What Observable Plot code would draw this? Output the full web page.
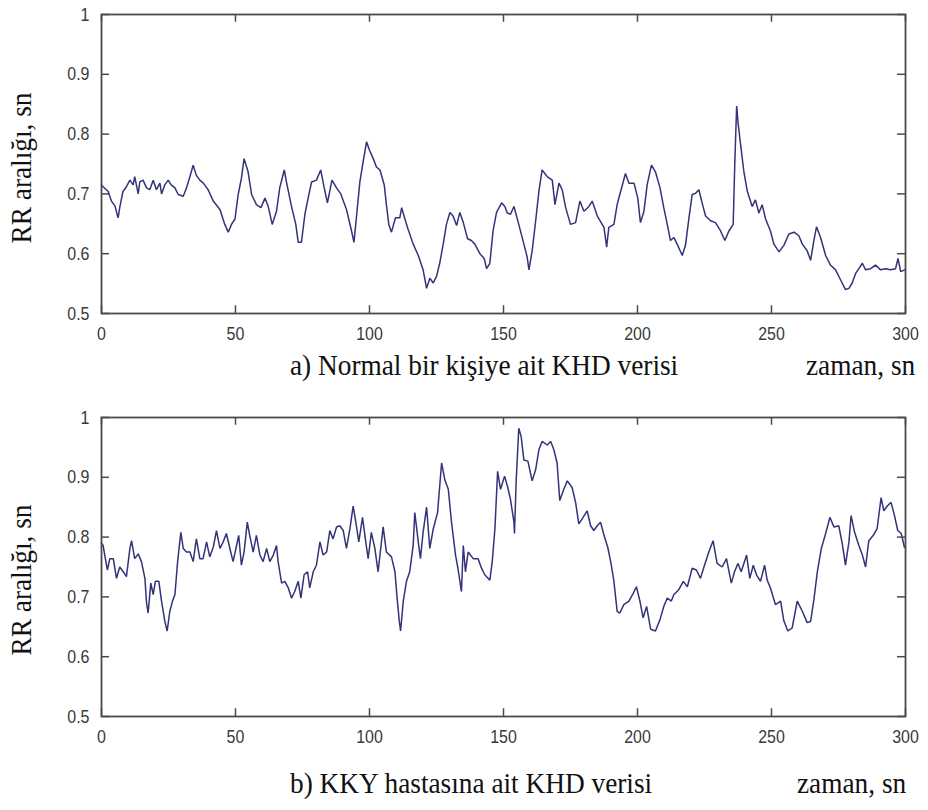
<!DOCTYPE html>
<html>
<head>
<meta charset="utf-8">
<script src="https://cdn.jsdelivr.net/npm/d3@7"></script>
<script src="https://cdn.jsdelivr.net/npm/@observablehq/plot@0.6"></script>
<style>
  html, body { margin: 0; padding: 0; background: #fff; }
  #page { position: relative; width: 928px; height: 810px; overflow: hidden; background: #fff; }
  .panel { position: absolute; left: 0; }
  .serif { position: absolute; font-family: "Liberation Serif", "Times New Roman", serif; font-size: 30px; line-height: 1; color: #111; white-space: nowrap; transform-origin: left center; transform: scaleX(0.91); }
  .ylab { transform-origin: center center; }
</style>
</head>
<body>
<div id="page"></div>
<script>
// ---------- data ----------
const timeA = [0,0.6,2.5,3.7,5,6.2,6.8,8,9.3,10.6,11.8,12.4,13.7,14.3,15.5,16.8,18,19.3,20.5,21.8,22.4,23.6,24.9,26,27.4,28.6,30.5,31.7,33,34.2,35.4,36.7,38,39.8,41.7,44.2,46,47.3,48.5,49.8,51,52.2,53.2,54.7,56,57.8,59.5,61,62.2,63.7,65.3,66.5,68.2,69,71,72.5,73.4,74.6,75.9,77.1,78.4,80.2,81.8,83.1,84.3,86,87.7,89.3,91.4,93.3,94.2,95.1,96.4,97.6,98.9,100,101.4,102.6,103.9,105.5,106.3,107.2,108.2,109.7,111.3,112,113.2,114.4,116.3,118.2,120,121.3,122.5,123.8,125,126.2,127.5,128.7,130,131.2,132.5,133.7,135,136.6,138,139.3,141.2,142.8,143.7,144.9,146.1,147.4,149.3,150.5,151.4,152.6,153.9,155.7,157.6,158.8,159.5,160.7,162,163.2,164.4,166.3,168.2,169.2,170.7,171.9,173.2,175,176.9,178.5,180,181.9,183.1,185,187.5,188.5,189.3,191.2,192.4,193.7,195.5,196.8,198.7,200.1,201.1,202.4,203.6,205.2,206.7,208.4,209.8,211.1,212.3,213.6,214.8,216.7,217.9,219.2,220.4,221.7,222.9,224.1,225.4,227.3,229.1,231,232.6,234.1,235.7,236.3,237,237.6,238.5,239.7,241,242.8,244,245.3,246.5,247.8,249.6,250.9,252.8,254.6,256.5,258.4,260.2,261.5,263.3,264.6,265.8,266.8,268.3,270.2,272,273.9,275.8,277.6,278.9,280.1,281.4,282.6,283.9,285.1,287,288.8,290.7,292.6,294.4,296.3,297.2,298.2,299.7];
const rrA = [0.715,0.712,0.704,0.688,0.68,0.66,0.677,0.704,0.712,0.723,0.715,0.729,0.70,0.72,0.723,0.71,0.707,0.723,0.707,0.718,0.70,0.715,0.723,0.715,0.71,0.699,0.696,0.71,0.729,0.748,0.731,0.723,0.718,0.707,0.688,0.674,0.649,0.636,0.649,0.658,0.699,0.726,0.759,0.737,0.699,0.682,0.677,0.693,0.679,0.649,0.671,0.71,0.74,0.72,0.677,0.649,0.619,0.619,0.666,0.693,0.72,0.723,0.74,0.71,0.685,0.723,0.71,0.70,0.674,0.638,0.619,0.66,0.72,0.753,0.787,0.773,0.759,0.745,0.74,0.715,0.682,0.649,0.636,0.66,0.66,0.677,0.658,0.641,0.616,0.597,0.573,0.542,0.559,0.551,0.562,0.584,0.616,0.649,0.669,0.663,0.647,0.669,0.652,0.625,0.622,0.616,0.60,0.592,0.575,0.584,0.638,0.669,0.685,0.679,0.668,0.666,0.679,0.649,0.616,0.595,0.573,0.605,0.655,0.704,0.74,0.729,0.723,0.682,0.718,0.707,0.677,0.649,0.652,0.688,0.671,0.679,0.688,0.663,0.644,0.611,0.644,0.649,0.682,0.704,0.734,0.718,0.718,0.693,0.652,0.671,0.715,0.748,0.737,0.71,0.677,0.649,0.622,0.627,0.616,0.597,0.614,0.66,0.699,0.701,0.707,0.685,0.663,0.655,0.652,0.638,0.622,0.638,0.649,0.751,0.847,0.816,0.781,0.737,0.704,0.679,0.69,0.668,0.682,0.658,0.638,0.616,0.603,0.614,0.633,0.636,0.63,0.616,0.605,0.589,0.622,0.645,0.627,0.597,0.581,0.573,0.556,0.54,0.542,0.551,0.567,0.575,0.584,0.573,0.575,0.581,0.573,0.575,0.573,0.575,0.592,0.57,0.573];

const timeB = [0,0.6,1.2,2.2,3.1,4.4,5.6,6.8,8.1,9.3,10.6,11.2,12.4,13.7,14.9,16.2,16.8,17.4,18.4,19.3,20.1,21.4,22.4,23.6,24.5,25.5,26.5,27.4,28.4,29.6,30.5,31.7,33,34.2,35.4,36.7,37.9,39.2,40.4,41.7,42.9,44.2,45.4,46.6,47.9,49.1,50.4,51.2,52.2,53.2,54.4,55.3,56.6,57.8,59.1,60.3,61.6,62.8,64.1,65.3,65.9,67.2,68.4,69.7,70.9,72.1,73.4,74.4,75.6,76.9,77.7,79,80.2,81.5,82.7,84,85.2,86.4,87.7,88.9,90.2,91.4,92.7,93.9,95.1,96,97.4,98.6,99.5,100.7,102,103.2,105.1,106.3,108.2,109.5,110.3,111.1,111.6,112.6,113.8,115,116.3,116.9,118.2,119,120,121.3,122.5,123.8,125.4,126.9,128.1,129.4,130.6,132.1,133.1,134.3,135,135.8,136.8,138.7,140.5,141.8,143,144.9,145.8,146.8,147.8,148.9,150.4,151.6,152.6,153.9,154.1,154.7,155.7,156.6,157.6,159.1,160.7,162,163.2,164.4,166.3,167.6,168.8,170,171,172.5,173.8,175.6,176.9,178.1,179.7,181.2,182.5,183.7,185,186.2,187.5,188.9,190,191.2,192.4,193.4,194.9,196.8,198.4,199.6,200.9,202.1,203.4,204.9,206.7,208.4,209.8,211.1,212.6,213.6,215.4,217.1,218.6,220.4,222,223.5,225,226.6,228.2,229.7,231.6,233.2,235,236.2,237.5,238.7,240.7,241.9,243.2,244.4,245.9,247.4,248.4,249.6,251.5,253.4,254.6,256.1,257.7,259.6,261.5,263.3,264.6,265.8,267.1,268.6,270.2,271.8,273.3,275.1,276.4,277.6,278.9,279.7,281,282.6,283.9,285.1,286.3,288,289.4,290.9,291.9,293.2,294.6,295.9,297.1,298.4,299.6];
const rrB = [0.79,0.786,0.77,0.745,0.764,0.764,0.731,0.75,0.742,0.734,0.781,0.794,0.764,0.772,0.759,0.731,0.69,0.673,0.723,0.704,0.726,0.726,0.693,0.66,0.643,0.676,0.693,0.704,0.759,0.808,0.781,0.775,0.775,0.759,0.797,0.764,0.764,0.792,0.767,0.783,0.811,0.781,0.792,0.806,0.781,0.759,0.786,0.803,0.753,0.775,0.825,0.803,0.775,0.803,0.77,0.759,0.781,0.759,0.77,0.786,0.759,0.723,0.726,0.715,0.698,0.709,0.726,0.698,0.737,0.742,0.715,0.742,0.753,0.792,0.77,0.775,0.811,0.797,0.817,0.819,0.811,0.781,0.814,0.852,0.819,0.792,0.833,0.792,0.764,0.808,0.781,0.742,0.817,0.775,0.767,0.742,0.698,0.66,0.643,0.693,0.726,0.742,0.786,0.841,0.792,0.764,0.808,0.85,0.781,0.814,0.841,0.924,0.896,0.88,0.825,0.77,0.745,0.709,0.786,0.742,0.775,0.764,0.764,0.748,0.737,0.728,0.759,0.814,0.91,0.88,0.902,0.883,0.863,0.825,0.806,0.891,0.982,0.968,0.929,0.927,0.894,0.913,0.946,0.96,0.954,0.96,0.946,0.924,0.861,0.88,0.894,0.883,0.858,0.822,0.833,0.844,0.819,0.811,0.819,0.825,0.803,0.783,0.759,0.726,0.676,0.673,0.687,0.693,0.706,0.717,0.693,0.665,0.684,0.646,0.643,0.662,0.684,0.698,0.693,0.704,0.712,0.726,0.717,0.748,0.745,0.731,0.753,0.775,0.794,0.756,0.75,0.764,0.723,0.742,0.756,0.742,0.77,0.731,0.753,0.737,0.726,0.753,0.728,0.715,0.687,0.693,0.66,0.643,0.648,0.693,0.676,0.657,0.659,0.695,0.742,0.781,0.806,0.833,0.817,0.819,0.789,0.753,0.792,0.836,0.808,0.786,0.77,0.75,0.794,0.803,0.814,0.866,0.844,0.852,0.858,0.836,0.811,0.806,0.783];

const xTicks = [0, 50, 100, 150, 200, 250, 300];
const yTicks = [0.5, 0.6, 0.7, 0.8, 0.9, 1];
const yLabel = "RR aralığı, sn";
const xLabel = "zaman, sn";
const captionA = "a) Normal bir kişiye ait KHD verisi";
const captionB = "b) KKY hastasına ait KHD verisi";

// ---------- drawing ----------
const lineColor = "#33337a";
const axisColor = "#4a4a4a";
const textColor = "#3a3a3a";

function panel(times, values, marginTop, height) {
  const data = times.map((t, i) => ({t, v: values[i]}));
  return Plot.plot({
    width: 928,
    height,
    marginLeft: 101,
    marginRight: 23,
    marginTop,
    marginBottom: height - marginTop - 299,
    style: {background: "transparent", color: textColor, fontSize: "19px", fontFamily: '"Liberation Sans", Arial, sans-serif'},
    x: {domain: [0, 300]},
    y: {domain: [0.5, 1]},
    marks: [
      Plot.line(data, {x: "t", y: "v", stroke: lineColor, strokeWidth: 1.5, strokeLinejoin: "miter"}),
      // inward tick marks on all four sides (MATLAB box style)
      Plot.ruleX(xTicks, {y1: 0.5, y2: 0.513, stroke: axisColor, strokeWidth: 1.5}),
      Plot.ruleX(xTicks, {y1: 1, y2: 0.987, stroke: axisColor, strokeWidth: 1.5}),
      Plot.ruleY(yTicks, {x1: 0, x2: 3, stroke: axisColor, strokeWidth: 1.5}),
      Plot.ruleY(yTicks, {x1: 300, x2: 297, stroke: axisColor, strokeWidth: 1.5}),
      Plot.frame({stroke: axisColor, strokeWidth: 1.8}),
      Plot.axisX(xTicks, {tickSize: 0, tickPadding: 13, label: null, fill: textColor, fontSize: 19}),
      Plot.axisY(yTicks, {tickSize: 0, tickPadding: 12, label: null, tickFormat: d3.format("~g"), fill: textColor, fontSize: 19})
    ]
  });
}

// narrow the sans tick labels horizontally, like the condensed face of the original
function condense(svg) {
  svg.querySelectorAll("g[aria-label$='tick label'] text").forEach(t => {
    const len = t.getComputedTextLength();
    if (len > 0) {
      t.setAttribute("textLength", (len * 0.84).toFixed(1));
      t.setAttribute("lengthAdjust", "spacingAndGlyphs");
    }
  });
}

const page = document.getElementById("page");

const svgA = panel(timeA, rrA, 14, 346);
svgA.classList.add("panel");
svgA.style.top = "0px";
page.appendChild(svgA);
condense(svgA);

const svgB = panel(timeB, rrB, 13, 346);
svgB.classList.add("panel");
svgB.style.top = "404px";
page.appendChild(svgB);
condense(svgB);

function addText(txt, left, top, extra) {
  const d = document.createElement("div");
  d.className = "serif" + (extra ? " " + extra : "");
  d.textContent = txt;
  d.style.left = left + "px";
  d.style.top = top + "px";
  page.appendChild(d);
  return d;
}

addText(captionA, 290, 350);
addText(xLabel, 806, 350);
addText(captionB, 290, 768);
addText(xLabel, 797, 768);

// rotated y-axis labels, centred at the given point
function addYLabel(cx, cy) {
  const d = addText(yLabel, 0, 0, "ylab");
  const w = d.offsetWidth, h = d.offsetHeight;
  d.style.left = (cx - w / 2) + "px";
  d.style.top = (cy - h / 2) + "px";
  d.style.transform = "rotate(-90deg) scaleX(0.91)";
}
addYLabel(21, 168);
addYLabel(21, 580);
</script>
</body>
</html>
